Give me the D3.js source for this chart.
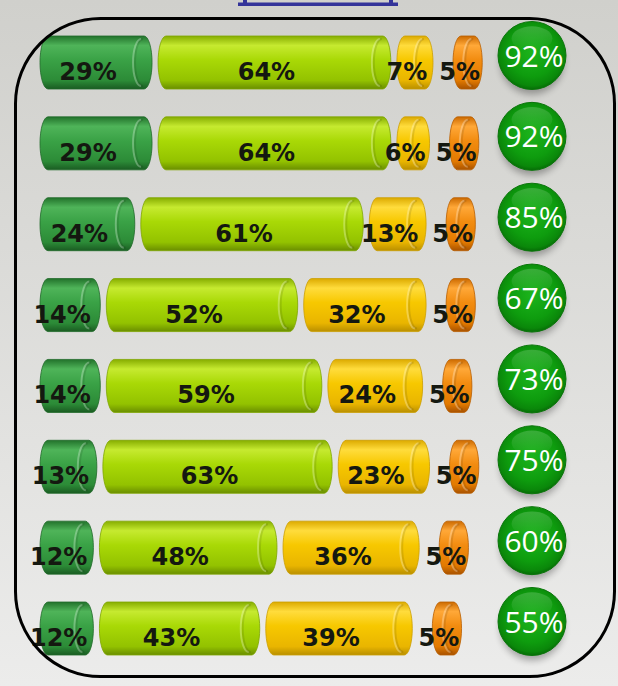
<!DOCTYPE html>
<html>
<head>
<meta charset="utf-8">
<script src="https://cdn.jsdelivr.net/npm/d3@7/dist/d3.min.js"></script>
<style>
  html, body { margin: 0; padding: 0; background: #dcdcd9; }
  svg { display: block; }
</style>
</head>
<body>
<script>
// ---- data ----
const rows = [0, 1, 2, 3, 4, 5, 6, 7];
const greenValues  = [29, 29, 24, 14, 14, 13, 12, 12];
const limeValues   = [64, 64, 61, 52, 59, 63, 48, 43];
const yellowValues = [7, 6, 13, 32, 24, 23, 36, 39];
const orangeValues = [5, 5, 5, 5, 5, 5, 5, 5];
const totalValues  = [92, 92, 85, 67, 73, 75, 60, 55];
const seriesNames  = ["green", "lime", "yellow", "orange"];

// ---- styles ----
const palette = {
  green:  ["#22722b", "#4fb459", "#3aa246", "#2c8b37", "#1a5c22"],
  lime:   ["#86ad00", "#c6ea30", "#a9d906", "#93c200", "#6a8e00"],
  yellow: ["#dcaa00", "#ffdc3c", "#f7c800", "#e9b500", "#b98f00"],
  orange: ["#cc6a00", "#ffa838", "#f28c10", "#e27a00", "#a85200"]
};
const edge = { green: "#1f6a28", lime: "#7fa600", yellow: "#cc9e00", orange: "#b95e00" };

const W = 618, H = 686;
const svg = d3.select("body").append("svg").attr("width", W).attr("height", H);
const defs = svg.append("defs");

// background
const bg = defs.append("linearGradient").attr("id", "bg").attr("x1", 0).attr("y1", 0).attr("x2", 0).attr("y2", 1);
bg.append("stop").attr("offset", "0%").attr("stop-color", "#d0d0cc");
bg.append("stop").attr("offset", "100%").attr("stop-color", "#ececeb");
svg.append("rect").attr("width", W).attr("height", H).attr("fill", "url(#bg)");

// cylinder gradients
seriesNames.forEach(n => {
  const c = palette[n];
  const g = defs.append("linearGradient").attr("id", "g-" + n).attr("x1", 0).attr("y1", 0).attr("x2", 0).attr("y2", 1);
  [[0, c[0]], [0.18, c[1]], [0.45, c[2]], [0.84, c[3]], [1, c[4]]].forEach(([o, col]) =>
    g.append("stop").attr("offset", o).attr("stop-color", col));
});

// circle gradient + shadow
const rg = defs.append("radialGradient").attr("id", "ball").attr("cx", "50%").attr("cy", "45%").attr("r", "55%");
rg.append("stop").attr("offset", "0%").attr("stop-color", "#1cb41c");
rg.append("stop").attr("offset", "65%").attr("stop-color", "#0e9c0e");
rg.append("stop").attr("offset", "90%").attr("stop-color", "#0a870a");
rg.append("stop").attr("offset", "100%").attr("stop-color", "#066c06");
const hl = defs.append("linearGradient").attr("id", "hl").attr("x1", 0).attr("y1", 0).attr("x2", 0).attr("y2", 1);
hl.append("stop").attr("offset", "0%").attr("stop-color", "#fff").attr("stop-opacity", 0.18);
hl.append("stop").attr("offset", "100%").attr("stop-color", "#fff").attr("stop-opacity", 0);
defs.append("filter").attr("id", "blur").attr("x", "-50%").attr("y", "-50%").attr("width", "200%").attr("height", "200%")
  .append("feGaussianBlur").attr("stdDeviation", 3.5);

// ---- scales ----
const barH = 53;
const capR = 8;
const y = d3.scalePoint().domain(rows).range([36, 602]);
const len = d3.scaleLinear().domain([0, 100]).range([12, 357]);   // bar length incl. end caps
const startX = 40, gap = 6, orangeGap = 20;
const ballX = 532, ballR = 34;

function cylPath(x0, w, y0, h, r) {
  const x1 = x0 + w;
  return `M${x0 + r},${y0} L${x1 - r},${y0} A${r},${h / 2} 0 0 1 ${x1 - r},${y0 + h} L${x0 + r},${y0 + h} A${r},${h / 2} 0 0 1 ${x0 + r},${y0} Z`;
}

const data = rows.map(i => {
  const vals = [greenValues[i], limeValues[i], yellowValues[i], orangeValues[i]];
  let x = startX;
  const segs = vals.map((v, k) => {
    if (k === 3) x += orangeGap - gap;
    const w = len(v);
    const s = { name: seriesNames[k], v, x0: x, w };
    x += w + gap;
    return s;
  });
  return { i, segs, total: totalValues[i] };
});

const rowG = svg.selectAll("g.row").data(data).enter().append("g").attr("class", "row")
  .attr("transform", d => `translate(0,${y(d.i)})`);

// cylinders
const seg = rowG.selectAll("g.seg").data(d => d.segs).enter().append("g").attr("class", "seg");
seg.append("path")
  .attr("d", s => cylPath(s.x0, s.w, 0, barH, capR))
  .attr("fill", s => `url(#g-${s.name})`)
  .attr("stroke", s => edge[s.name]).attr("stroke-width", 0.8);
// end-face highlight
seg.append("path")
  .attr("d", s => {
    const cx = s.x0 + s.w - capR - 3;
    return `M${cx},3 A${capR},${barH / 2 - 3} 0 0 0 ${cx},${barH - 3}`;
  })
  .attr("fill", "none").attr("stroke", "#ffffff").attr("stroke-opacity", 0.28).attr("stroke-width", 2);
seg.append("path")
  .attr("d", s => {
    const cx = s.x0 + s.w - capR - 1;
    return `M${cx},3 A${capR},${barH / 2 - 3} 0 0 0 ${cx},${barH - 3}`;
  })
  .attr("fill", "none").attr("stroke", "#000").attr("stroke-opacity", 0.1).attr("stroke-width", 2);

// labels
rowG.selectAll("text.lbl").data(d => d.segs).enter().append("text").attr("class", "lbl")
  .attr("x", s => s.x0 + s.w / 2 - 8)
  .attr("y", 44)
  .attr("text-anchor", "middle")
  .attr("font-family", "DejaVu Sans, Verdana, sans-serif")
  .attr("font-weight", "bold")
  .attr("font-size", 24)
  .attr("fill", "#141810")
  .text(s => s.v + "%");

// balls
const ballCy = barH / 2 - 7;
rowG.append("ellipse")
  .attr("cx", ballX).attr("cy", ballCy + 6).attr("rx", ballR - 2).attr("ry", ballR - 1)
  .attr("fill", "#000").attr("opacity", 0.3).attr("filter", "url(#blur)");
rowG.append("circle")
  .attr("cx", ballX).attr("cy", ballCy).attr("r", ballR)
  .attr("fill", "url(#ball)").attr("stroke", "#0b760b").attr("stroke-width", 1);
rowG.append("ellipse")
  .attr("cx", ballX).attr("cy", ballCy - ballR * 0.5).attr("rx", ballR * 0.6).attr("ry", ballR * 0.36)
  .attr("fill", "url(#hl)");
rowG.append("text")
  .attr("x", ballX + 2).attr("y", ballCy + 11)
  .attr("text-anchor", "middle")
  .attr("font-family", "Open Sans, Noto Sans, sans-serif")
  .attr("font-size", 30)
  .attr("fill", "#ffffff")
  .text(d => d.total + "%");

// rounded frame
svg.append("rect")
  .attr("x", 15.5).attr("y", 18.5).attr("width", 599).attr("height", 658)
  .attr("rx", 85).attr("ry", 85)
  .attr("fill", "none").attr("stroke", "#000").attr("stroke-width", 3);

// blue link underline at top (the link text itself lies above the page edge)
const link = svg.append("g").attr("fill", "#333399");
link.append("rect").attr("x", 238).attr("y", 2.5).attr("width", 160).attr("height", 3.5);
link.append("rect").attr("x", 243).attr("y", 0).attr("width", 4).attr("height", 3);
link.append("rect").attr("x", 389).attr("y", 0).attr("width", 4).attr("height", 3);
</script>
</body>
</html>
